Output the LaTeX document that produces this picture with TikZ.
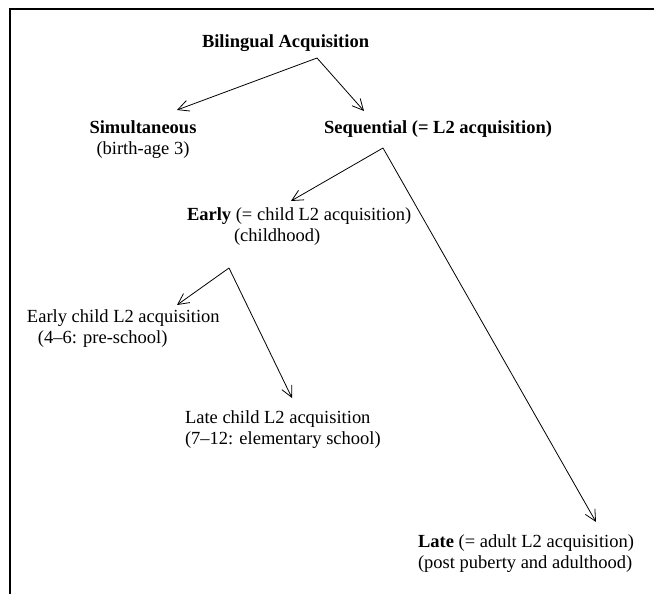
\documentclass[tikz,border=0pt]{standalone}
\usepackage{fontspec}
\setmainfont{Liberation Serif}
\usetikzlibrary{arrows.meta}
\begin{document}
\begin{tikzpicture}[x=1pt,y=-1pt,
  lbl/.style={inner sep=0pt, outer sep=0pt, align=left, anchor=base west,
              font=\fontsize{18.5}{21.5}\selectfont},
  clbl/.style={lbl, align=center, anchor=base},
  conn/.style={line width=0.8pt, -{Straight Barb[length=11pt,width=11pt,line width=0.8pt]}},
  frame/.style={line width=1.3pt}]
\useasboundingbox (0,0) rectangle (654,594);
\draw[frame] (10,594) -- (10,9) -- (654,9);

% two-line nodes: base anchor sits on the last line
\node[lbl]  (bil)  at (202,48)  {\textbf{Bilingual Acquisition}};
\node[clbl] (sim)  at (143,154.5) {\textbf{Simultaneous}\\(birth-age 3)};
\node[lbl]  (seq)  at (324,133) {\textbf{Sequential (= L2 acquisition)}};
\node[lbl]  (early) at (187,241.5) {\textbf{Early} (= child L2 acquisition)\\\hspace*{47pt}(childhood)};
\node[lbl]  (ech)  at (27,343.5)  {Early child L2 acquisition\\\hspace*{11pt}(4–6: pre-school)};
\node[lbl]  (lch)  at (185,444.5) {Late child L2 acquisition\\(7–12: elementary school)};
\node[lbl]  (late) at (418,568.5) {\textbf{Late} (= adult L2 acquisition)\\(post puberty and adulthood)};

\coordinate (apexA) at (317,58);
\coordinate (tipSim) at (177,110);
\coordinate (tipSeq) at (364,111);
\coordinate (apexB) at (383,148);
\coordinate (tipEarly) at (291,201);
\coordinate (tipLate) at (596,522);
\coordinate (apexC) at (229,268);
\coordinate (tipEch) at (177,305);
\coordinate (tipLch) at (292,398);

\draw[conn] (apexA) -- (tipSim);
\draw[conn] (apexA) -- (tipSeq);
\draw[conn] (apexB) -- (tipEarly);
\draw[conn] (apexB) -- (tipLate);
\draw[conn] (apexC) -- (tipEch);
\draw[conn] (apexC) -- (tipLch);
\end{tikzpicture}
\end{document}
